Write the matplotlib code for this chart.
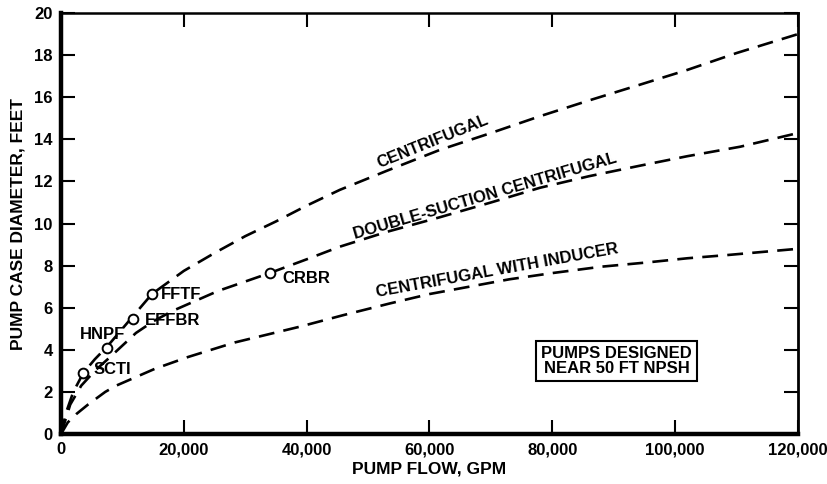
import matplotlib
matplotlib.use("Agg")
import matplotlib.pyplot as plt
import numpy as np

plt.rcParams['font.family'] = ['Liberation Sans', 'DejaVu Sans']
plt.rcParams['font.weight'] = 'bold'

# curves (flow in GPM, diameter in feet)
x_cent = [0, 800, 2000, 3630, 5500, 7500, 11000, 14800, 20000, 25000, 30000, 35000, 40000,
          45400, 53000, 61700, 70000, 78000, 86000, 94300, 102000, 110000, 120000]
y_cent = [0, 1.0, 2.0, 2.9, 3.55, 4.15, 5.35, 6.65, 7.75, 8.6, 9.4, 10.1, 10.85,
          11.6, 12.5, 13.5, 14.3, 15.1, 15.85, 16.6, 17.3, 18.1, 19.0]

x_dbl = [0, 1500, 3300, 5500, 8000, 10100, 12200, 15000, 18100, 25600, 34000, 40000, 45400,
         53000, 61700, 70000, 78000, 86000, 94300, 102000, 110600, 120000]
y_dbl = [0, 1.4, 2.3, 3.0, 3.66, 4.23, 4.8, 5.35, 5.84, 6.8, 7.65, 8.3, 8.9,
         9.6, 10.3, 11.0, 11.7, 12.25, 12.75, 13.2, 13.65, 14.3]

x_ind = [0, 1100, 2500, 4400, 7200, 9000, 15300, 20700, 28300, 38900, 46000, 53500, 60000,
         66500, 73000, 80100, 88000, 95400, 102000, 108400, 120000]
y_ind = [0, 0.55, 0.95, 1.4, 2.0, 2.3, 3.1, 3.66, 4.35, 5.1, 5.65, 6.2, 6.65,
         7.0, 7.35, 7.65, 7.95, 8.15, 8.35, 8.5, 8.8]

# plant points
plants = ["SCTI", "HNPF", "EFFBR", "FFTF", "CRBR"]
plant_x = [3630, 7500, 11700, 14800, 34000]
plant_y = [2.9, 4.1, 5.45, 6.65, 7.65]

fig = plt.figure(figsize=(8.28, 4.84), dpi=100)
ax = fig.add_axes([0.0737, 0.1033, 0.89, 0.8697])

for xs, ys in [(x_cent, y_cent), (x_dbl, y_dbl), (x_ind, y_ind)]:
    ax.plot(xs, ys, color='k', lw=1.9, ls=(0, (6, 3.5)))

ax.plot(plant_x, plant_y, 'o', mfc='white', mec='k', mew=1.4, ms=7, zorder=3)

# point labels
lab_pos = {"SCTI": (5300, 3.05, 'left'), "HNPF": (6700, 4.75, 'center'),
           "EFFBR": (13700, 5.4, 'left'), "FFTF": (16300, 6.65, 'left'),
           "CRBR": (36100, 7.4, 'left')}
for name in plants:
    tx, ty, ha = lab_pos[name]
    ax.text(tx, ty, name, fontsize=12, fontweight='bold', ha=ha, va='center')

# curve labels
ax.text(60600, 13.9, "CENTRIFUGAL", fontsize=12, fontweight='bold',
        rotation=22, ha='center', va='center', rotation_mode='anchor')
ax.text(69000, 11.3, "DOUBLE-SUCTION CENTRIFUGAL", fontsize=12, fontweight='bold',
        rotation=16.3, ha='center', va='center', rotation_mode='anchor')
ax.text(71100, 7.75, "CENTRIFUGAL WITH INDUCER", fontsize=12, fontweight='bold',
        rotation=10.3, ha='center', va='center', rotation_mode='anchor')

ax.text(90500, 3.47, "PUMPS DESIGNED\nNEAR 50 FT NPSH", fontsize=12, fontweight='bold',
        ha='center', va='center', linespacing=1.0,
        bbox=dict(boxstyle='square,pad=0.3', fc='white', ec='k', lw=1.5))

ax.set_xlim(0, 120000)
ax.set_ylim(0, 20)
xt = np.arange(0, 120001, 20000)
ax.set_xticks(xt)
ax.set_xticklabels(['0'] + [f"{v:,}" for v in xt[1:]])
ax.set_yticks(np.arange(0, 21, 2))

ax.tick_params(direction='in', length=10, width=1.5, top=True, right=True,
               labelsize=12, pad=6)
for lbl in ax.get_xticklabels() + ax.get_yticklabels():
    lbl.set_fontweight('bold')

ax.spines['left'].set_linewidth(3.2)
ax.spines['bottom'].set_linewidth(3.2)
ax.spines['top'].set_linewidth(1.8)
ax.spines['right'].set_linewidth(2)

ax.set_xlabel("PUMP FLOW, GPM", fontsize=12.5, fontweight='bold', labelpad=3)
ax.set_ylabel("PUMP CASE DIAMETER, FEET", fontsize=12.5, fontweight='bold', labelpad=6)

fig.savefig("out.png", dpi=100)
